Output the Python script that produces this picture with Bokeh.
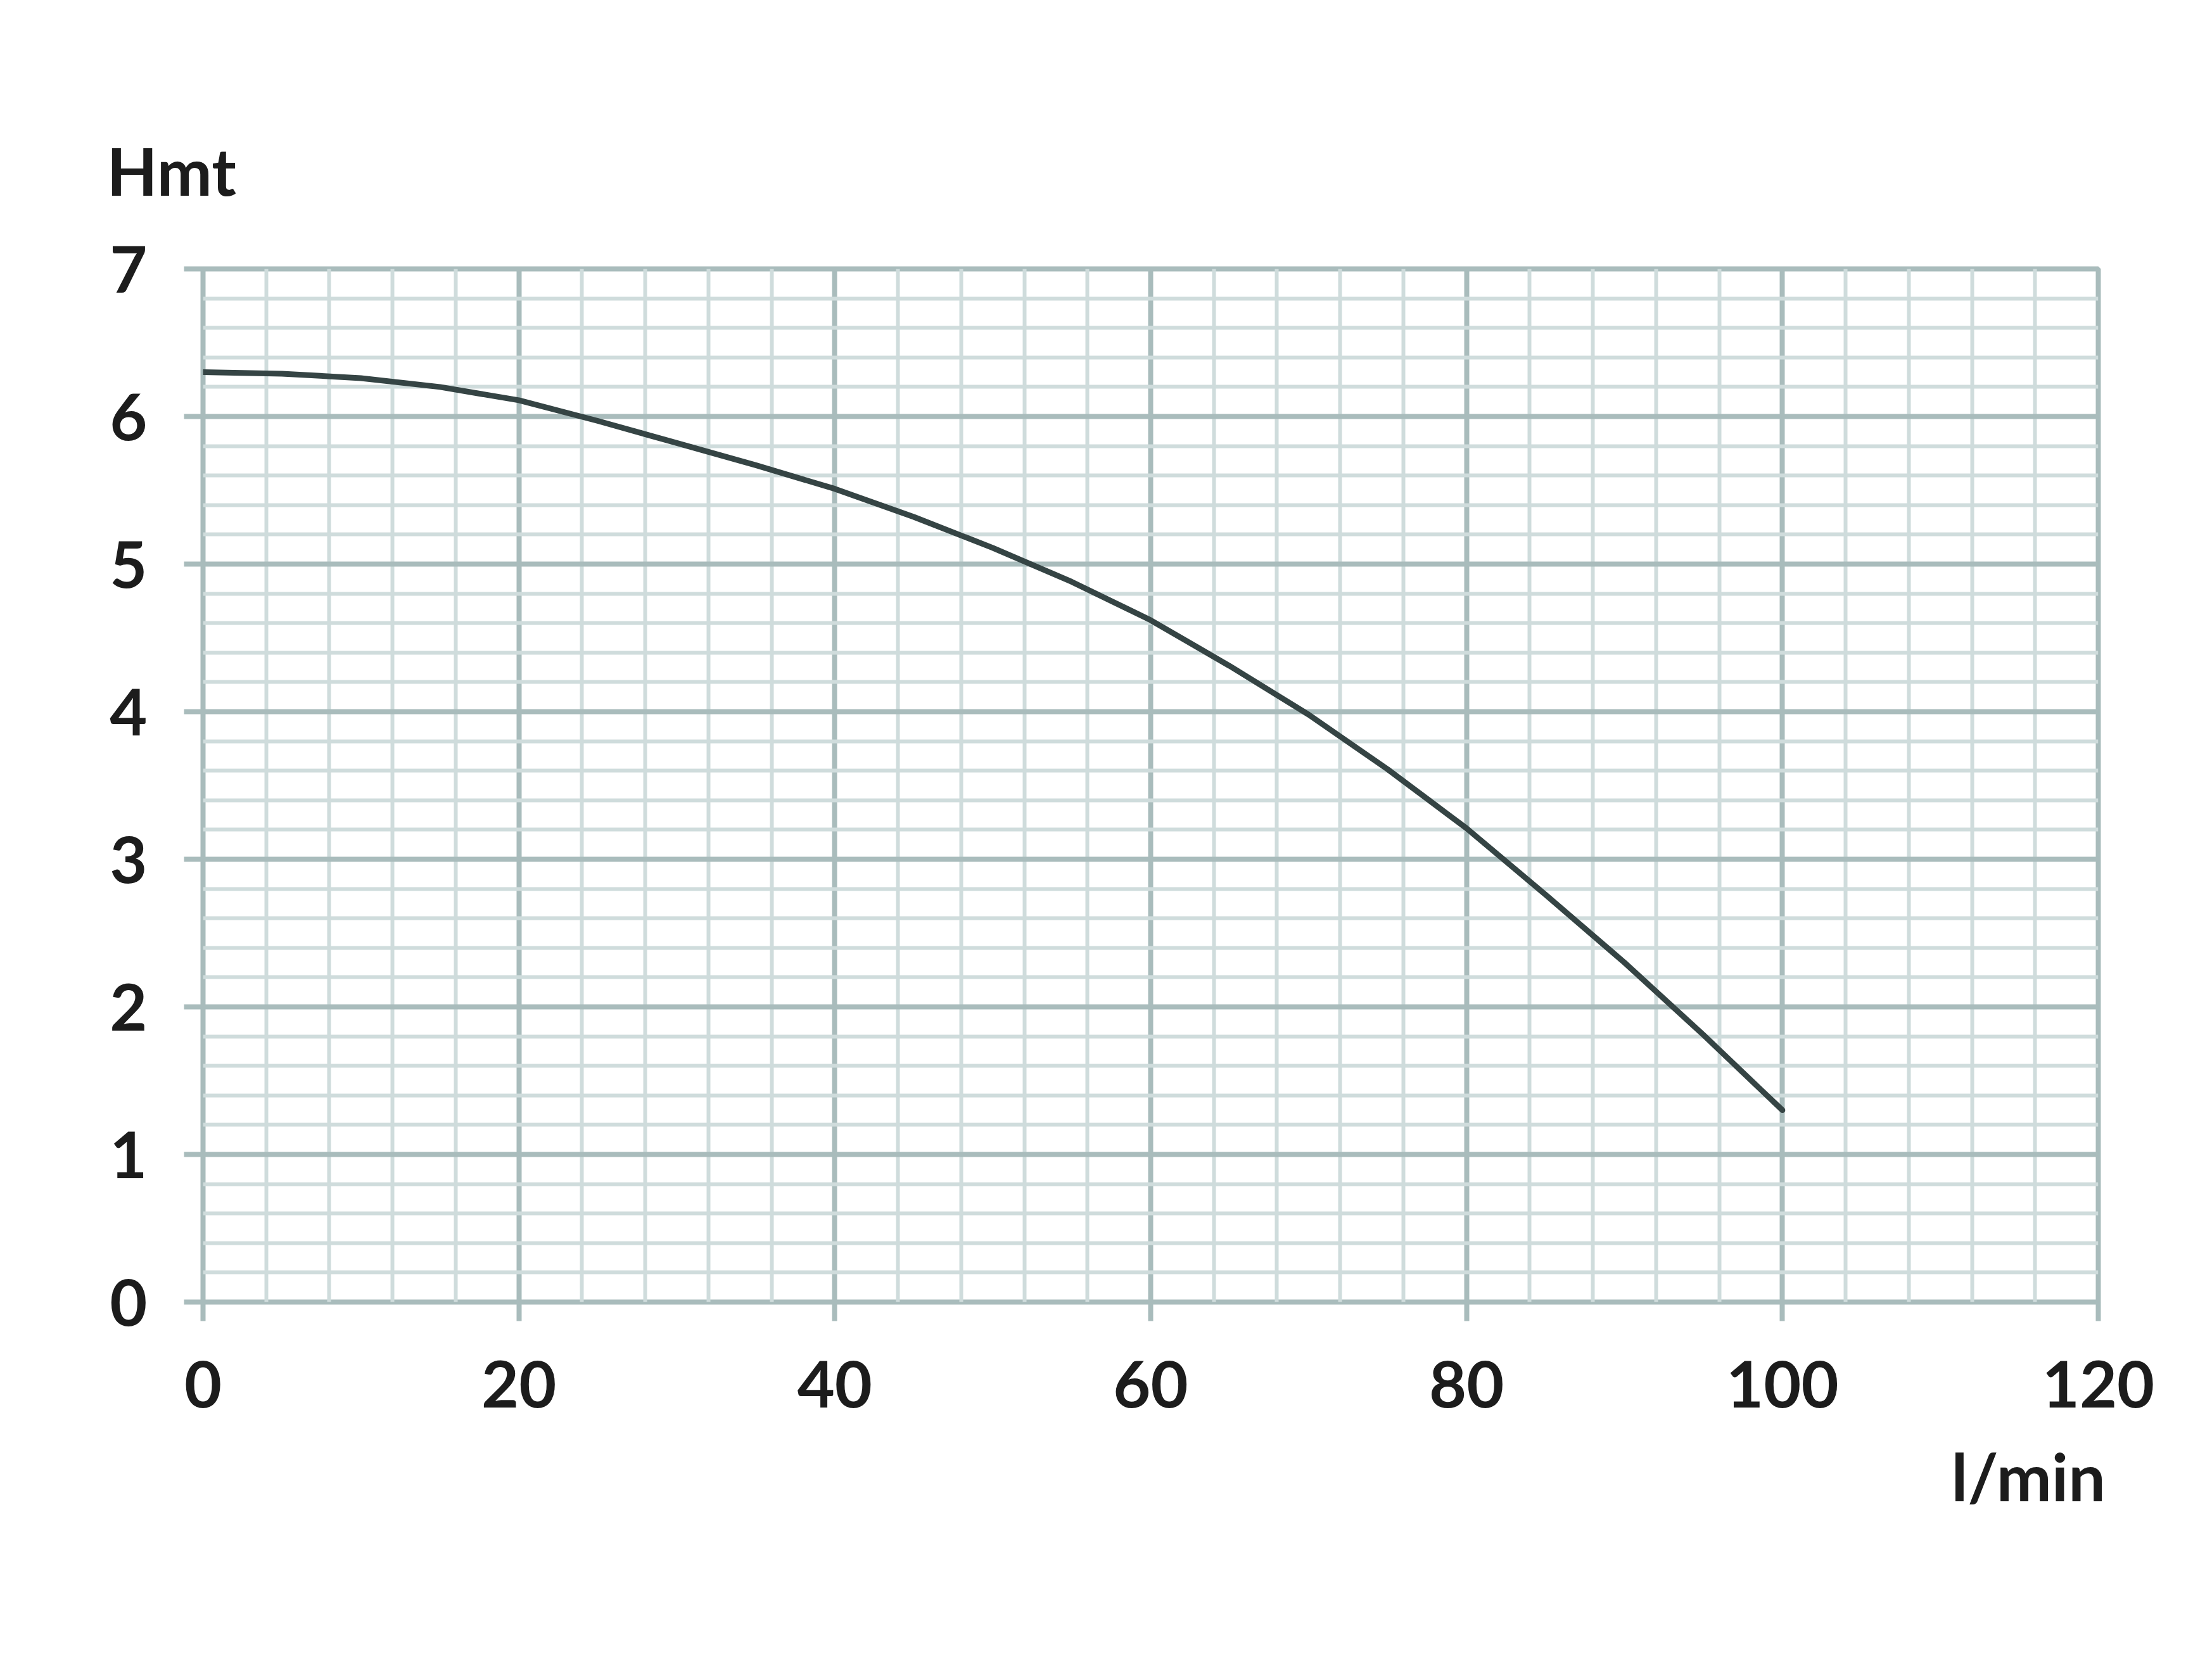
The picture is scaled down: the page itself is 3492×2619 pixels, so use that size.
from bokeh.plotting import figure
from bokeh.models import FixedTicker, Title, Range1d
from bokeh.embed import file_html
from bokeh.resources import INLINE

# Data (flow in l/min, head in m)
flow = [0, 5, 10, 15, 20, 25, 30, 35, 40, 45, 50, 55, 60, 65, 70, 75, 80, 85, 90, 95, 100]
head = [6.30, 6.29, 6.26, 6.20, 6.11, 5.97, 5.82, 5.67, 5.51, 5.32, 5.11, 4.88, 4.62,
        4.31, 3.98, 3.61, 3.21, 2.76, 2.30, 1.81, 1.30]

x_ticks = [0, 20, 40, 60, 80, 100, 120]
x_minor = [v for v in range(0, 121, 4) if v % 20 != 0]
y_ticks = [0, 1, 2, 3, 4, 5, 6, 7]
y_minor = [round(i * 0.2, 1) for i in range(0, 36) if i % 5 != 0]

x_title = "l/min"
y_title = "Hmt"

FONT = "Lato"
TXT = "#1c1c1c"
MAJOR = "#a9bcbc"
MINOR = "#cfdcdc"

W, H = 3476, 2603
p = figure(width=W, height=H, output_backend="svg", toolbar_location=None,
           x_range=Range1d(0, 120), y_range=Range1d(0, 7),
           min_border_left=320, min_border_right=164,
           min_border_top=424, min_border_bottom=548)
p.outline_line_color = MAJOR
p.outline_line_width = 8
p.background_fill_color = "white"

p.xaxis.ticker = FixedTicker(ticks=x_ticks)
p.yaxis.ticker = FixedTicker(ticks=y_ticks)
p.axis.axis_line_color = None
p.axis.major_tick_in = 0
p.axis.major_tick_out = 30
p.axis.major_tick_line_color = MAJOR
p.axis.major_tick_line_width = 8
p.axis.minor_tick_line_color = None
p.axis.major_label_text_font = FONT
p.axis.major_label_text_font_style = "bold"
p.axis.major_label_text_font_size = "102px"
p.axis.major_label_text_color = TXT
p.xaxis.major_label_standoff = 62
p.yaxis.major_label_standoff = 58

p.xgrid.ticker = FixedTicker(ticks=x_ticks, minor_ticks=x_minor)
p.ygrid.ticker = FixedTicker(ticks=y_ticks, minor_ticks=y_minor)
p.grid.grid_line_color = MAJOR
p.grid.grid_line_width = 8
p.grid.minor_grid_line_color = MINOR
p.grid.minor_grid_line_width = 6

p.line(flow, head, line_color="#354444", line_width=9, line_cap="round", line_join="round")

p.add_layout(Title(text=y_title, align="left", offset=-152, standoff=187,
                   text_font=FONT, text_font_style="bold", text_font_size="104px",
                   text_color=TXT), "above")
p.add_layout(Title(text=x_title, align="left", offset=2760, standoff=80,
                   text_font=FONT, text_font_style="bold", text_font_size="104px",
                   text_color=TXT), "below")

open("out.html", "w").write(file_html(p, INLINE))
